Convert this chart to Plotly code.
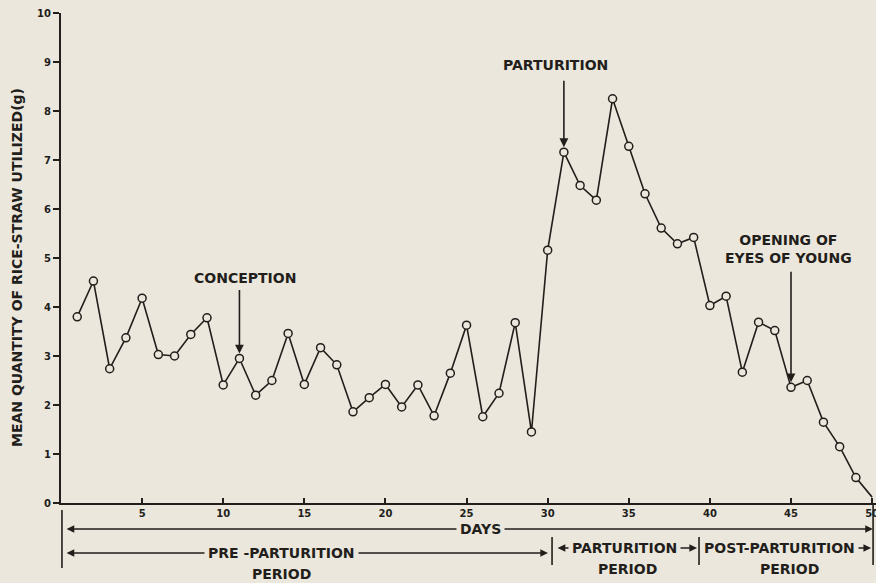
import plotly.graph_objects as go

# Mean daily rice-straw utilization (g), days 1-50
days = list(range(1, 51))
straw_g = [
    3.80, 4.53, 2.74, 3.37, 4.18, 3.03, 3.00, 3.44, 3.78, 2.41,
    2.95, 2.20, 2.50, 3.46, 2.42, 3.17, 2.82, 1.86, 2.15, 2.42,
    1.96, 2.41, 1.78, 2.65, 3.63, 1.76, 2.24, 3.68, 1.45, 5.16,
    7.16, 6.48, 6.18, 8.25, 7.28, 6.31, 5.61, 5.29, 5.42, 4.03,
    4.22, 2.67, 3.69, 3.52, 2.36, 2.50, 1.65, 1.15, 0.52, 0.12,
]
x_ticks = [5, 10, 15, 20, 25, 30, 35, 40, 45, 50]
y_ticks = list(range(0, 11))

conception_day = 11
parturition_day = 31
eyes_open_day = 45

BG = "#ece7dc"
INK = "#221e1b"
FONT = "DejaVu Sans"

W, H = 876, 583
M_L, M_R, M_T, M_B = 61, 0, 13, 80
PLOT_H = H - M_T - M_B
PLOT_BOTTOM = H - M_B


def py(px):
    """Pixel row below the plot -> paper y."""
    return (PLOT_BOTTOM - px) / PLOT_H


# last sample closes the curve at the axis, drawn without a marker
marker_opacity = [1] * (len(days) - 1) + [0]

fig = go.Figure(
    go.Scatter(
        x=days,
        y=straw_g,
        mode="lines+markers",
        line=dict(color=INK, width=1.6),
        marker=dict(symbol="circle", size=8, color=BG, opacity=marker_opacity,
                    line=dict(color=INK, width=1.5)),
        cliponaxis=False,
        hoverinfo="x+y",
    )
)

label_font = dict(family=FONT, size=14, color=INK)


def value_on(day):
    return straw_g[days.index(day)]


# event arrows pointing down at the curve
for day, tail in [(conception_day, -70), (parturition_day, -73), (eyes_open_day, -117)]:
    fig.add_annotation(
        x=day, y=value_on(day), xref="x", yref="y", text="",
        showarrow=True, ax=0, ay=tail, arrowhead=2, arrowsize=1.1,
        arrowwidth=1.6, arrowcolor=INK, standoff=5,
    )


def text_at(x, y, text, xref="x", yref="y", **kw):
    fig.add_annotation(x=x, y=y, xref=xref, yref=yref, text=text, showarrow=False,
                       xanchor="center", yanchor="middle", font=label_font, **kw)


text_at(11.34, 4.59, "<b>CONCEPTION</b>")
text_at(30.46, 8.94, "<b>PARTURITION</b>")
text_at(44.82, 5.19, "<b>OPENING OF</b><br><b>EYES OF YOUNG</b>")

# y-axis title
text_at((17 - M_L) / (W - M_L), py(268), "<b>MEAN QUANTITY OF RICE-STRAW UTILIZED(g)</b>",
        xref="paper", yref="paper", textangle=-90)


def span(d0, d1, row_px, label, label_day, sub=None, sub_day=None, sub_px=None):
    fig.add_annotation(
        x=d1, y=py(row_px), xref="x", yref="paper", axref="x", ax=d0, ay=0,
        text="", showarrow=True, arrowside="end+start", arrowhead=2,
        arrowsize=1.1, arrowwidth=1.4, arrowcolor=INK, standoff=0, startstandoff=0,
    )
    text_at(label_day, py(row_px), f"<b>{label}</b>", yref="paper",
            bgcolor=BG, borderpad=3)
    if sub:
        text_at(sub_day, py(sub_px), f"<b>{sub}</b>", yref="paper")


span(0.25, 50.05, 529, "DAYS", 25.83)
span(0.25, 30.02, 553, "PRE -PARTURITION", 13.62, "PERIOD", 13.62, 574)
span(30.52, 39.21, 548, "PARTURITION", 34.71, "PERIOD", 34.9, 569)
span(39.46, 49.94, 548, "POST-PARTURITION", 44.27, "PERIOD", 44.88, 569)

# period boundary bars
for d, top, bottom in [(0.06, 510, 568), (30.27, 537, 565), (39.33, 537, 565), (50.06, 505, 565)]:
    fig.add_shape(type="line", xref="x", yref="paper", x0=d, x1=d,
                  y0=py(top), y1=py(bottom), line=dict(color=INK, width=1.6))

fig.update_xaxes(
    range=[0, (W - M_L - M_R) / ((872 - 142) / 45)],
    tickvals=x_ticks, ticks="inside", ticklen=5, tickwidth=1.5, tickcolor=INK,
    showline=True, linecolor=INK, linewidth=2, showgrid=False, zeroline=False,
    ticklabeloverflow="allow", automargin=False,
    tickfont=dict(family=FONT, size=10, color=INK, weight="bold"),
)
fig.update_yaxes(
    range=[0, 10], tickvals=y_ticks, ticks="outside", ticklen=6, tickwidth=1.5,
    tickcolor=INK, showline=True, linecolor=INK, linewidth=2, showgrid=False,
    zeroline=False, automargin=False,
    tickfont=dict(family=FONT, size=10, color=INK, weight="bold"),
)

fig.update_layout(
    width=W, height=H,
    margin=dict(l=M_L, r=M_R, t=M_T, b=M_B),
    paper_bgcolor=BG, plot_bgcolor=BG,
    showlegend=False,
)

fig.write_html("out.html")
